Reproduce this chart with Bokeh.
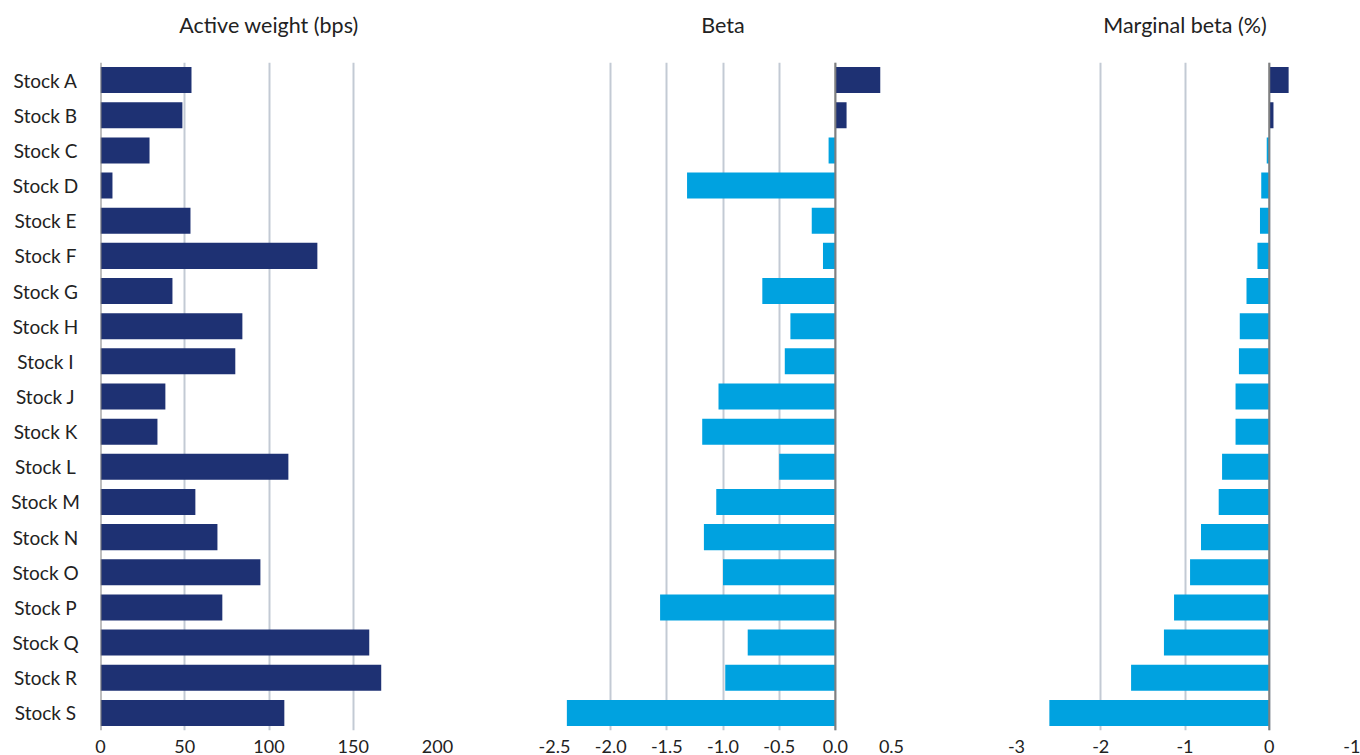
from bokeh.plotting import figure
from bokeh.layouts import row, column, Spacer
from bokeh.models import FactorRange, Range1d, FixedTicker, NumeralTickFormatter, Span
from bokeh.core.properties import value
from bokeh.embed import file_html
from bokeh.resources import INLINE

# Data
stocks = ["Stock A", "Stock B", "Stock C", "Stock D", "Stock E", "Stock F", "Stock G",
          "Stock H", "Stock I", "Stock J", "Stock K", "Stock L", "Stock M", "Stock N",
          "Stock O", "Stock P", "Stock Q", "Stock R", "Stock S"]
active_weight = [54.0, 48.6, 29.1, 7.1, 53.4, 128.7, 42.7, 84.2, 80.0, 38.5,
                 33.8, 111.5, 56.3, 69.4, 94.9, 72.3, 159.5, 166.6, 109.1]
beta = [0.40, 0.10, -0.06, -1.32, -0.21, -0.11, -0.65, -0.40, -0.45, -1.04,
        -1.185, -0.50, -1.06, -1.17, -1.00, -1.56, -0.78, -0.98, -2.39]
marginal_beta = [0.23, 0.05, -0.03, -0.095, -0.11, -0.14, -0.27, -0.35, -0.36, -0.40,
                 -0.40, -0.56, -0.60, -0.81, -0.94, -1.13, -1.25, -1.64, -2.61]

titles = ["Active weight (bps)", "Beta", "Marginal beta (%)"]
ticks_aw = [0, 50, 100, 150, 200]
ticks_beta = [-2.5, -2.0, -1.5, -1.0, -0.5, 0.0, 0.5]
ticks_mb = [-3, -2, -1, 0, 1]
mb_tick_labels = {-3: "-3", -2: "-2", -1: "-1", 0: "0", 1: "-1"}

NAVY = "#1e3173"
CYAN = "#00a2e0"
GRID = "#c3cad4"
ZERO = "#7f7f7f"
TEXT = "#222222"
FONT = "Lato"

LABEL_W = 90
FRAME_W = 337
FRAME_H = 668
TITLE_H = 62
BOTTOM = 25


def y_range():
    return FactorRange(*reversed(stocks), range_padding=0)


def bare(p):
    p.axis.visible = False
    p.grid.grid_line_color = None
    p.outline_line_color = None
    return p


def panel(values, x_start, x_end, ticks, left, right, colored=True):
    p = figure(frame_width=FRAME_W, frame_height=FRAME_H, y_range=y_range(),
               x_range=Range1d(x_start, x_end), output_backend="svg",
               toolbar_location=None, min_border_left=left, min_border_right=right,
               min_border_top=0, min_border_bottom=BOTTOM)
    p.outline_line_color = None
    p.yaxis.visible = False
    p.ygrid.grid_line_color = None
    p.xgrid.grid_line_color = GRID
    p.xgrid.grid_line_width = 2
    p.xaxis.ticker = FixedTicker(ticks=ticks)
    p.xaxis.axis_line_color = None
    p.xaxis.major_tick_line_color = None
    p.xaxis.minor_tick_line_color = None
    p.xaxis.major_label_standoff = 3
    p.xaxis.major_label_text_font = FONT
    p.xaxis.major_label_text_font_size = "18px"
    p.xaxis.major_label_text_color = TEXT
    colors = [NAVY if (v >= 0 or not colored) else CYAN for v in values]
    p.hbar(y=stocks, left=0, right=values, height=0.74, color=colors, line_color=None)
    p.add_layout(Span(location=0, dimension="height", line_color=ZERO, line_width=2))
    return p


def title_strip(text, panel_fig, left, right):
    # a strip above each panel sharing its x range, with the heading centred
    t = figure(frame_width=FRAME_W, frame_height=TITLE_H, x_range=panel_fig.x_range,
               y_range=Range1d(0, 1), output_backend="svg", toolbar_location=None,
               min_border_left=left, min_border_right=right,
               min_border_top=0, min_border_bottom=0)
    bare(t)
    mid = (panel_fig.x_range.start + panel_fig.x_range.end) / 2
    t.text(x=[mid], y=[0.61], text=[text], text_align="center", text_baseline="middle",
           text_font=value(FONT), text_font_size="21.5px", text_color=TEXT)
    return t


# Category labels drawn in their own narrow panel, centred
labels = figure(frame_width=LABEL_W, frame_height=FRAME_H, y_range=y_range(),
                x_range=Range1d(0, LABEL_W), output_backend="svg", toolbar_location=None,
                min_border_left=0, min_border_right=0, min_border_top=0,
                min_border_bottom=BOTTOM)
bare(labels)
labels.text(x=[LABEL_W / 2] * len(stocks), y=stocks, text=stocks, text_align="center",
            text_baseline="middle", text_font=value(FONT), text_font_size="19px",
            text_color=TEXT)

borders = [(10, 58), (59, 62), (63, 7)]

p1 = panel(active_weight, 0, 200, ticks_aw, *borders[0], colored=False)
p1.xaxis.formatter = NumeralTickFormatter(format="0")

p2 = panel(beta, -2.5, 0.5, ticks_beta, *borders[1])
p2.xaxis.formatter = NumeralTickFormatter(format="0.0")

p3 = panel(marginal_beta, -3, 1, ticks_mb, *borders[2])
p3.xaxis.major_label_overrides = mb_tick_labels

heads = [title_strip(titles[i], p, *borders[i]) for i, p in enumerate([p1, p2, p3])]

layout = column(
    row(Spacer(width=LABEL_W, height=TITLE_H), *heads, spacing=0),
    row(labels, p1, p2, p3, spacing=0),
    spacing=0,
)

open("out.html", "w").write(file_html(layout, INLINE))
